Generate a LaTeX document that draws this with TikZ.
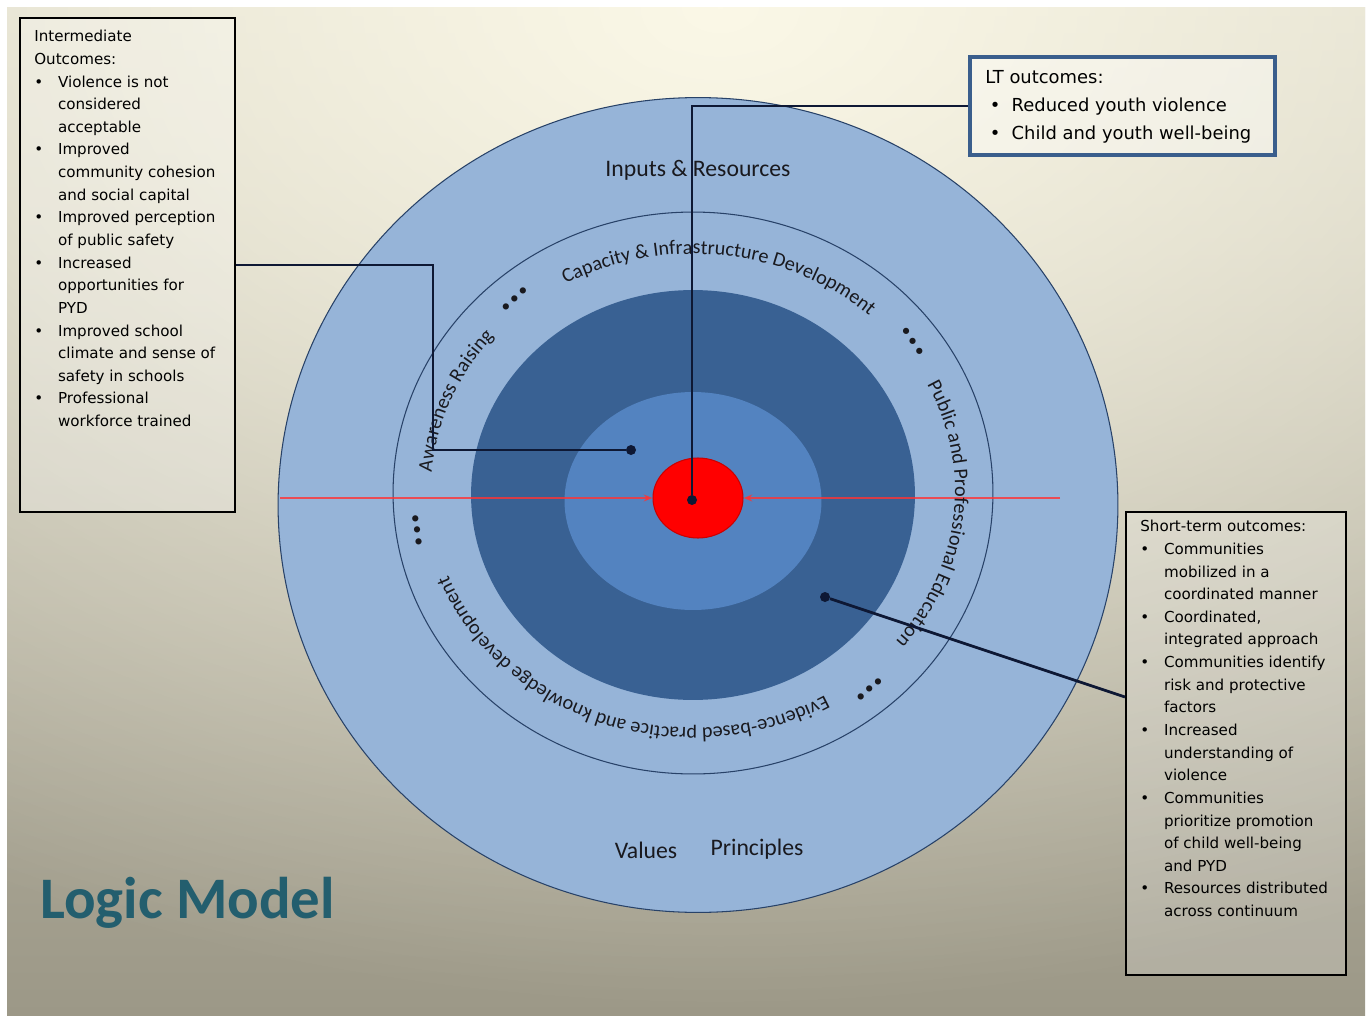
\documentclass[tikz,border=0pt]{standalone}
\usepackage{fontspec}
\setmainfont{Carlito}
\newfontfamily\boxfont{DejaVu Sans}
\usepackage{tikz}
\usetikzlibrary{shapes.geometric,decorations.text,calc,arrows.meta,fadings}

\definecolor{bgtop}{RGB}{251,248,231}
\definecolor{bgupper}{RGB}{214,211,195}
\definecolor{bgmid}{RGB}{200,197,182}
\definecolor{bgbot}{RGB}{156,152,135}
\definecolor{lightblue}{RGB}{150,180,216}
\definecolor{bandblue}{RGB}{57,97,147}
\definecolor{midblue}{RGB}{83,131,192}
\definecolor{edgeblue}{RGB}{40,66,104}
\definecolor{navy}{RGB}{14,24,52}
\definecolor{ltframe}{RGB}{58,94,140}
\definecolor{titleteal}{RGB}{35,94,110}
\definecolor{arcink}{RGB}{25,25,30}

\tikzfading[name=glow,inner color=transparent!0,outer color=transparent!100]

\newcommand{\bul}{\makebox[13.5pt][l]{\textbullet}}
\newcommand{\ind}{\hspace*{13.5pt}}
\newcommand{\ltbul}{\makebox[15pt][l]{\hspace{2.5pt}\textbullet}}
\newcommand{\arcfont}{\fontsize{11.5}{14}\selectfont}

\begin{document}
\begin{tikzpicture}[x=0.02cm,y=0.02cm,
    box/.style={draw=black,line width=1.2pt,inner sep=0pt},
    boxtext/.style={anchor=north west,inner sep=0pt,align=left,
      font=\boxfont\fontsize{8.6}{12.88}\selectfont},
    disc/.style={ellipse,inner sep=0pt},
    link/.style={draw=navy,line width=1.6pt},
    linkdot/.style={circle,fill=navy,inner sep=0pt,minimum size=0.2cm},
    redline/.style={draw=red!80!white,line width=1pt,opacity=0.8},
    arclabel/.style={decorate,decoration={text along path,text align=center,
      text color=arcink,text={|\arcfont|#1}}},
    dots/.style={font=\fontsize{10}{12}\selectfont,text=arcink,inner sep=0pt},
    ringlabel/.style={font=\fontsize{13.5}{16}\selectfont,text=arcink}]
  \useasboundingbox (0,0) rectangle (1370,-1021);
  \fill[white] (0,0) rectangle (1370,-1021);
  % slide background
  \shade[top color=bgupper,middle color=bgmid,bottom color=bgbot] (7,-7) rectangle (1365,-1015);
  \begin{scope}
    \clip (7,-7) rectangle (1365,-1015);
    \fill[bgtop,path fading=glow] (720,-7) ellipse (1500 and 1000);
  \end{scope}

  % the circles
  \node[disc,draw=edgeblue,line width=0.6pt,fill=lightblue,
    minimum width=16.8cm,minimum height=16.3cm] (outer) at (698,-505) {};
  \node[disc,draw=edgeblue,line width=0.6pt,
    minimum width=12cm,minimum height=11.24cm] (ring) at (693,-493) {};
  \node[disc,fill=bandblue,minimum width=8.88cm,minimum height=8.2cm] (band) at (693,-495) {};
  \node[disc,fill=midblue,minimum width=5.14cm,minimum height=4.36cm] (inner) at (693,-501) {};
  \node[disc,fill=red,draw=red!80!black,line width=0.6pt,
    minimum width=1.8cm,minimum height=1.6cm] (core) at (698,-498) {};

  % red axis
  \draw[redline,-{Stealth[length=5pt,width=4pt]}] (280,-498) -- (core.west);
  \draw[redline,-{Stealth[length=5pt,width=4pt]}] (1060,-498) -- (core.east);

  % texts round the ring
  \coordinate (textC) at (693,-491);
  \path[arclabel={Capacity {\&} Infrastructure Development}]
    ($(textC)+(153:262 and 237)$) arc[start angle=153,end angle=13,x radius=262,y radius=237];
  \path[arclabel={Public and Professional Education}]
    ($(textC)+(64:262 and 237)$) arc[start angle=64,end angle=-76,x radius=262,y radius=237];
  \path[arclabel={Evidence-based practice and knowledge development}]
    ($(textC)+(-40:262 and 237)$) arc[start angle=-40,end angle=-180,x radius=262,y radius=237];
  \path[arclabel={Awareness Raising}]
    ($(textC)+(229:262 and 237)$) arc[start angle=229,end angle=89,x radius=262,y radius=237];
  \node[dots,rotate=43] (dotsA) at (515,-300) {\textbullet\,\textbullet\,\textbullet};
  \node[dots,rotate=-56] (dotsB) at (912,-342) {\textbullet\,\textbullet\,\textbullet};
  \node[dots,rotate=98] (dotsC) at (418,-530) {\textbullet\,\textbullet\,\textbullet};
  \node[dots,rotate=42] (dotsD) at (870,-690) {\textbullet\,\textbullet\,\textbullet};

  \node[ringlabel] (inputsLbl) at (698,-170) {Inputs \& Resources};
  \node[ringlabel] (valuesLbl) at (646,-850) {Values};
  \node[ringlabel] (principlesLbl) at (757,-849) {Principles};

  % outcome boxes
  \node[box,fill=white,fill opacity=0.25,minimum width=4.3cm,minimum height=9.88cm]
    (interBox) at (127.5,-265) {};
  \node[boxtext] (interText) at (34,-30) {Intermediate\\Outcomes:\\
    \bul Violence is not\\ \ind considered\\ \ind acceptable\\
    \bul Improved\\ \ind community cohesion\\ \ind and social capital\\
    \bul Improved perception\\ \ind of public safety\\
    \bul Increased\\ \ind opportunities for\\ \ind PYD\\
    \bul Improved school\\ \ind climate and sense of\\ \ind safety in schools\\
    \bul Professional\\ \ind workforce trained};

  \node[draw=ltframe,line width=2.2pt,fill=white,fill opacity=0.35,inner sep=0pt,
    minimum width=6.1cm,minimum height=1.96cm] (ltBox) at (1122.5,-106) {};
  \node[boxtext,font=\boxfont\fontsize{10.2}{15.9}\selectfont] (ltText) at (985,-70)
    {LT outcomes:\\ \ltbul Reduced youth violence\\ \ltbul Child and youth well-being};

  \node[box,fill=white,fill opacity=0.2,minimum width=4.4cm,minimum height=9.26cm]
    (shortBox) at (1236,-743.5) {};
  \node[boxtext] (shortText) at (1140,-520) {Short-term outcomes:\\
    \bul Communities\\ \ind mobilized in a\\ \ind coordinated manner\\
    \bul Coordinated,\\ \ind integrated approach\\
    \bul Communities identify\\ \ind risk and protective\\ \ind factors\\
    \bul Increased\\ \ind understanding of\\ \ind violence\\
    \bul Communities\\ \ind prioritize promotion\\ \ind of child well-being\\ \ind and PYD\\
    \bul Resources distributed\\ \ind across continuum};

  % connectors
  \node[linkdot] (midDot) at (631,-450) {};
  \node[linkdot] (coreDot) at (692,-500) {};
  \node[linkdot] (bandDot) at (825,-597) {};
  \draw[link] (interBox.east) -- ++(197,0) |- (midDot);
  \draw[link] (ltBox.west) -| (coreDot);
  \draw[link] ($(shortBox.north west)!0.4!(shortBox.south west)$) -- (bandDot);

  \node[anchor=base west,text=titleteal,font=\bfseries\fontsize{33.5}{40}\selectfont]
    (titleLbl) at (34,-918) {Logic Model};
\end{tikzpicture}
\end{document}
